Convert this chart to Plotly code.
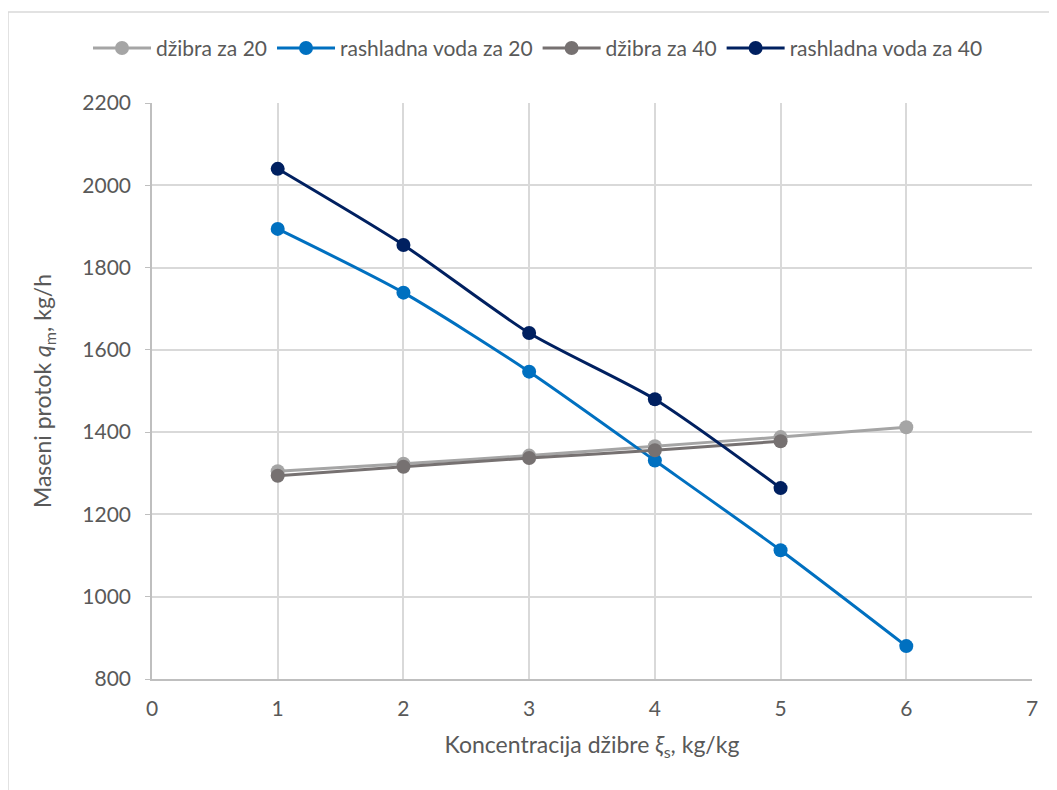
import plotly.graph_objects as go

x_vals = [1, 2, 3, 4, 5, 6]
x_vals_40 = [1, 2, 3, 4, 5]

dzibra_20 = [1305, 1323, 1343, 1366, 1388, 1412]
voda_20 = [1894, 1739, 1547, 1331, 1113, 880]
dzibra_40 = [1294, 1316, 1337, 1356, 1378]
voda_40 = [2040, 1855, 1641, 1480, 1264]

series_names = ["džibra za 20", "rashladna voda za 20", "džibra za 40", "rashladna voda za 40"]
colors = ["#a5a5a5", "#0070c0", "#767171", "#002060"]

x_ticks = [0, 1, 2, 3, 4, 5, 6, 7]
y_ticks = [800, 1000, 1200, 1400, 1600, 1800, 2000, 2200]

FONT = "Lato"
TXT = "#595959"

fig = go.Figure()
data = [(x_vals, dzibra_20), (x_vals, voda_20), (x_vals_40, dzibra_40), (x_vals_40, voda_40)]
for (xs, ys), name, c in zip(data, series_names, colors):
    fig.add_trace(go.Scatter(
        x=xs, y=ys, name=name, mode="lines+markers",
        line=dict(color=c, width=3, shape="spline", smoothing=0.7),
        marker=dict(color=c, size=14),
    ))

fig.update_layout(
    width=1057, height=790,
    margin=dict(l=144, r=33, t=95, b=119),
    paper_bgcolor="white", plot_bgcolor="white",
    font=dict(family=FONT, color=TXT, size=20),
    showlegend=True,
    legend=dict(orientation="h", x=(88 - 152) / 880, xanchor="left", y=1.095, yanchor="middle",
                font=dict(family=FONT, size=21, color=TXT), itemwidth=58,
                traceorder="normal"),
    xaxis=dict(range=[0, 7], tickvals=x_ticks, showgrid=True, gridcolor="#d9d9d9",
               gridwidth=1.5, zeroline=False, showline=True, linecolor="#bfbfbf",
               linewidth=1.5, ticks="", tickfont=dict(size=21, color=TXT),
               ticklabelstandoff=10,
               title=dict(text="Koncentracija džibre <i>ξ</i><sub>s</sub>, kg/kg",
                          font=dict(size=23, color=TXT), standoff=18)),
    yaxis=dict(range=[800, 2200], tickvals=y_ticks, showgrid=True, gridcolor="#d9d9d9",
               gridwidth=1.5, zeroline=False, showline=True, linecolor="#bfbfbf",
               linewidth=1.5, ticks="outside", ticklen=5, tickcolor="#bfbfbf",
               tickfont=dict(size=21, color=TXT), ticklabelstandoff=10,
               title=dict(text="Maseni protok <i>q</i><sub>m</sub>, kg/h",
                          font=dict(size=23, color=TXT), standoff=24)),
)

# outer chart border
fig.add_shape(type="rect", xref="paper", yref="paper",
              x0=(0 - 144) / 880, x1=(1070 - 144) / 880,
              y0=(671 - 800) / 576, y1=(671 - 4) / 576,
              line=dict(color="#d9d9d9", width=1.5), layer="below")

fig.write_html("out.html")
